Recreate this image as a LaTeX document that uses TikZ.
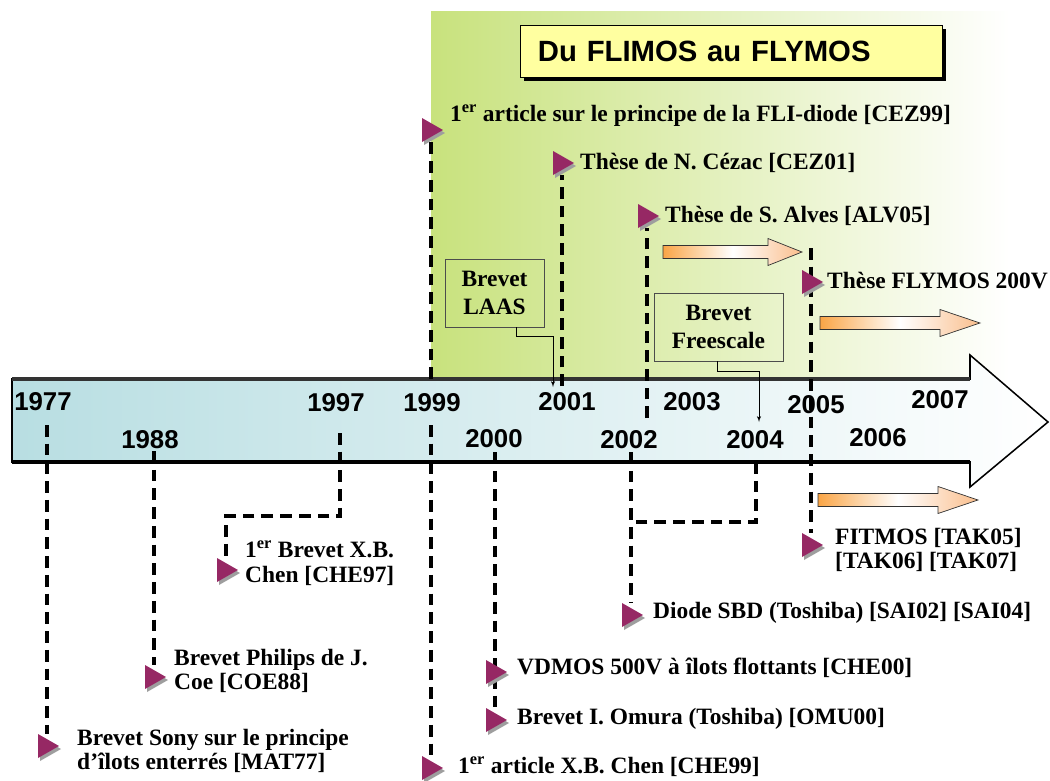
\documentclass[tikz,border=0pt]{standalone}
\usepackage{fontspec}
\setmainfont{Liberation Serif}
\newfontfamily\sansbold{Liberation Sans}
\usepackage{tikz}
\usetikzlibrary{arrows}
\usetikzlibrary{calc}
\usetikzlibrary{shadows}
\definecolor{panelgreen}{RGB}{200,226,125}
\definecolor{barblue}{RGB}{184,222,226}
\definecolor{titleyellow}{RGB}{255,255,160}
\definecolor{markpurple}{RGB}{150,40,100}
\definecolor{arroworange}{RGB}{250,165,70}
\definecolor{arrowpeach}{RGB}{250,190,140}
\pgfdeclarelayer{back}
\pgfsetlayers{back,main}
\tikzstyle{dashline} = [draw, line width=2.8pt, dash pattern=on 10pt off 6pt]
\tikzstyle{evtext} = [anchor=west, inner sep=0pt, align=left,
font=\bfseries\fontsize{20}{21}\selectfont]
\tikzstyle{yeartext} = [inner sep=0pt, font=\sansbold\bfseries\fontsize{22}{22}\selectfont]
\tikzstyle{brevetbox} = [rectangle, draw=black!70, line width=0.8pt, align=center,
font=\bfseries\fontsize{20}{24}\selectfont, minimum height=2.04cm]
\tikzstyle{titlebox} = [rectangle, draw=black, line width=0.8pt, fill=titleyellow,
text width=11.58cm, inner xsep=0.54cm, minimum height=1.56cm, align=left,
font=\sansbold\bfseries\fontsize{25}{25}\selectfont,
drop shadow={shadow xshift=3pt, shadow yshift=-3pt, fill=black, opacity=1}]
\tikzstyle{pointer} = [draw, line width=0.7pt, -latex']
\tikzstyle{orangearrow} = [draw=black!80, line width=0.6pt, left color=arroworange,
right color=arrowpeach, middle color=white]
\tikzset{evmark/.pic={
  \fill[black!38] (-7,-9) -- (14,3) -- (-7,15) -- cycle;
  \fill[markpurple] (-9,-12) -- (12,0) -- (-9,12) -- cycle;
  \coordinate (-top) at (0,-12);
  \coordinate (-bot) at (0,12);
}}

\begin{document}
\begin{tikzpicture}[x=0.03cm, y=-0.03cm]
	\useasboundingbox (0,0) rectangle (1050,781);
	\begin{pgfonlayer}{back}
	% green zone and time bar
	\fill[left color=panelgreen, right color=white] (431,11) rectangle (1010,379);
	\fill[left color=barblue, right color=white] (12,379) -- (970,379) -- (970,355) -- (1048,422) -- (970,487) -- (970,462) -- (12,462) -- cycle;
	\draw[line width=1.3pt] (12,379) -- (970,379) -- (970,355) -- (1048,422) -- (970,487) -- (970,462) -- (12,462) -- cycle;
	\draw[line width=2.6pt, black!80] (12,379) -- (970,379);
	\draw[line width=2.6pt] (12,462) -- (970,462);
	\end{pgfonlayer}
	\foreach \yr/\x/\y in {1977/43/402, 1988/150/440, 1997/336/403, 1999/432/403, 2000/494/439, 2001/567/402, 2002/629/440, 2003/692/402, 2004/755/440, 2005/816/405, 2006/878/438, 2007/940/400}
		\node[yeartext] (y\yr) at (\x,\y) {\yr};
	\node[titlebox] (title) at (731,51) {Du FLIMOS au FLYMOS};
	% markers
	\foreach \n/\x/\y in {m77/47/746, m88/154/677, m97/226/570, m99a/431/130, m99b/431/768, m00a/495/672, m00b/495/720, m01/562/163, m02/631/615, mAlv/647/216, m05a/811/282, m05b/811/545}
		\pic (\n) at (\x,\y) {evmark};
	\coordinate (t77) at (47,425);
	\coordinate (t88) at (154,451);
	\coordinate (t97) at (340,433);
	\coordinate (t99) at (431,425);
	\coordinate (t99a) at (431,379);
	\coordinate (t00) at (495,452);
	\coordinate (t01) at (562,386);
	\coordinate (t02) at (631,452);
	\coordinate (j02) at (631,522);
	\coordinate (t04) at (756,462);
	\coordinate (tAlv) at (647,418);
	\coordinate (t05) at (811,248);
	\begin{pgfonlayer}{back}
	\draw[dashline] (t77) -- (m77-top);
	\draw[dashline] (t88) -- (m88-top);
	\draw[dashline] (t97) -- (340,516) -| (m97-top);
	\draw[dashline] (t99) -- (m99b-top);
	\draw[dashline] (t99a) -- (m99a-bot);
	\draw[dashline] (t00) -- (m00b-top);
	\draw[dashline] (t01) -- (m01-bot);
	\draw[dashline] (t02) -- (m02-top);
	\draw[dashline] (t04) |- (j02);
	\draw[dashline] (tAlv) -- (mAlv-bot);
	\draw[dashline] (t05) -- (m05b-top);
	\end{pgfonlayer}
	% orange arrows
	\foreach \xa/\xh/\xt/\yc in {663/768/802/252, 820/940/980/323, 818/938/978/500}
		\draw[orangearrow] (\xa,\yc-6.5) -- (\xh,\yc-6.5) -- (\xh,\yc-13.5) -- (\xt,\yc) -- (\xh,\yc+13.5) -- (\xh,\yc+6.5) -- (\xa,\yc+6.5) -- cycle;
	% patents
	\node[brevetbox, minimum width=2.97cm] (laas) at (494.5,293) {Brevet\\LAAS};
	\node[brevetbox, minimum width=3.87cm] (frees) at (718.5,327) {Brevet\\Freescale};
	\coordinate (a01) at (553,387);
	\coordinate (a04) at (759,422);
	\path[pointer] ($(laas.south)+(22,0)$) -- ++(0,9) -| (a01);
	\path[pointer] ($(frees.south)+(-1,0)$) -- ++(0,10) -| (a04);
	% events
	\node[evtext] (cez99) at (450,116) {1\textsuperscript{er} article sur le principe de la FLI-diode [CEZ99]};
	\node[evtext] (cez01) at (580,163) {Thèse de N. Cézac [CEZ01]};
	\node[evtext] (alv05) at (665,216) {Thèse de S. Alves [ALV05]};
	\node[evtext] (flymos) at (827,281) {Thèse FLYMOS 200V};
	\node[evtext] (tak) at (835,550) {FITMOS [TAK05]\\{}[TAK06] [TAK07]};
	\node[evtext] (sai) at (653,613) {Diode SBD (Toshiba) [SAI02] [SAI04]};
	\node[evtext] (che00) at (517,668) {VDMOS 500V à îlots flottants [CHE00]};
	\node[evtext] (omu00) at (517,719) {Brevet I. Omura (Toshiba) [OMU00]};
	\node[evtext] (che99) at (458,767) {1\textsuperscript{er} article X.B. Chen [CHE99]};
	\node[evtext] (che97) at (245,563) {1\textsuperscript{er} Brevet X.B.\\Chen [CHE97]};
	\node[evtext] (coe88) at (174,671) {Brevet Philips de J.\\Coe [COE88]};
	\node[evtext] (mat77) at (77,751) {Brevet Sony sur le principe\\d’îlots enterrés [MAT77]};
\end{tikzpicture}
\end{document}
